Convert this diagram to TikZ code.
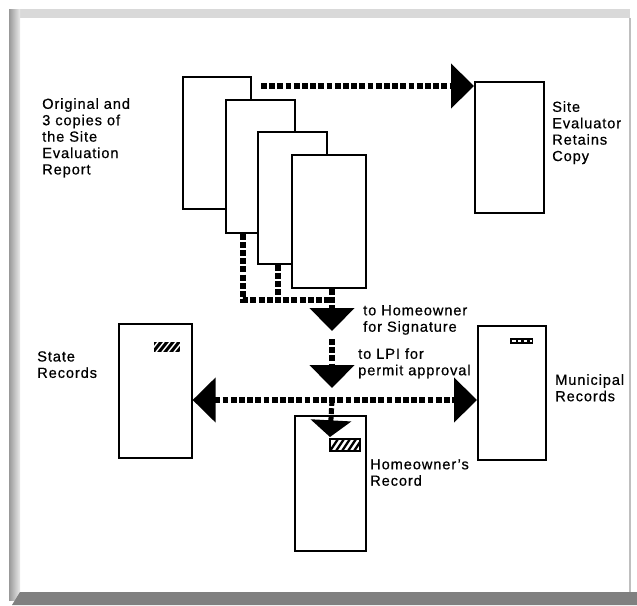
\documentclass[tikz,border=0pt]{standalone}
\usepackage{fontspec}
\setmainfont[LetterSpace=6, FakeBold=0.5]{Liberation Sans}
\usetikzlibrary{arrows.meta}
\tikzset{
  page/.style={draw, line width=1.4pt, fill=white, inner sep=0pt, anchor=north west},
  flow/.style={line width=4.3pt, dash pattern=on 5pt off 2pt},
  lbl/.style={anchor=north west, align=left, inner sep=0pt, font=\fontsize{12.5}{14}\selectfont},
  bighead/.tip={Triangle[length=0.69cm, width=1.32cm]},
  smallhead/.tip={Triangle[length=0.5cm, width=1.2cm]},
}
\begin{document}
\begin{tikzpicture}[x=0.03cm, y=-0.03cm]
  % frame
  \fill[white] (0,0) rectangle (637,605);
  \fill[black!15] (9,9) rectangle (630,18);
  \shade[left color=black!40, right color=black!8] (9,9) rectangle (20,600);
  \fill[black!50] (20,592) -- (637,592) -- (637,605) -- (12,605) -- cycle;
  \draw[black!25, line width=1pt] (630,18) -- (630,592);

  % pages
  \node[page, minimum width=2.04cm, minimum height=3.96cm] (copyA) at (182,76) {};
  \node[page, minimum width=2.07cm, minimum height=3.99cm] (copyB) at (225,99) {};
  \node[page, minimum width=2.07cm, minimum height=3.96cm] (copyC) at (257,131) {};
  \node[page, minimum width=2.22cm, minimum height=3.99cm] (copyD) at (291,154) {};
  \node[page, minimum width=2.07cm, minimum height=3.93cm] (retain) at (474,81) {};
  \node[page, minimum width=2.19cm, minimum height=4.02cm] (state) at (118,323) {};
  \node[page, minimum width=2.04cm, minimum height=4.02cm] (muni) at (477,325) {};
  \node[page, minimum width=2.13cm, minimum height=4.05cm] (owner) at (294,415) {};

  % labels
  \node[lbl] (origTxt) at (42,98) {Original and\\3 copies of\\the Site\\Evaluation\\Report};
  \node[lbl] (retainTxt) at (552,101) {Site\\Evaluator\\Retains\\Copy};
  \node[lbl] (signTxt) at (363,305) {to Homeowner\\for Signature};
  \node[lbl] (lpiTxt) at (358,348) {to LPI for\\permit approval};
  \node[lbl] (stateTxt) at (37,351) {State\\Records};
  \node[lbl] (muniTxt) at (555,374) {Municipal\\Records};
  \node[lbl] (ownTxt) at (370,459) {Homeowner's\\Record};

  % connectors
  \coordinate (evalStart) at (261,86);
  \coordinate (join) at (332,300);
  \coordinate (signTip) at (332,331);
  \coordinate (lpiTop) at (332,339);
  \coordinate (lpiTip) at (332,388);
  \coordinate (hub) at (332,400);
  \coordinate (ownTip) at (330,437);

  \draw[flow, -{bighead}] (evalStart) -- (evalStart -| retain.west);
  \draw[flow] ([xshift=0.54cm]copyB.south west) |- (join);
  \draw[flow] ([xshift=0.63cm]copyC.south west) -- ([xshift=0.63cm]copyC.south west |- join);
  \draw[flow, -{bighead}] (join |- copyD.south) -- (signTip);
  \draw[flow, -{bighead}] (lpiTop) -- (lpiTip);
  \draw[flow, {bighead}-{bighead}] (hub -| state.east) -- (hub -| muni.west);
  \draw[flow, -{smallhead}] (hub) -- (ownTip);

  % tags
  \begin{scope}
    \clip (154,342) rectangle (180,352);
    \fill (154,342) rectangle (180,352);
    \foreach \s in {150,156,...,180}
      \draw[white, line width=1.2pt] (\s,352) -- (\s+8,342);
  \end{scope}
  \fill (510,338) rectangle (533,344);
  \draw[white, line width=1pt, dash pattern=on 3pt off 2pt] (512,341) -- (532,341);
  \begin{scope}
    \clip (330,439) rectangle (360,451);
    \foreach \s in {330,336,...,366}
      \draw[line width=2pt] (\s,451) -- (\s+8,439);
  \end{scope}
  \draw[line width=1.2pt] (330,439) rectangle (360,451);
\end{tikzpicture}
\end{document}
